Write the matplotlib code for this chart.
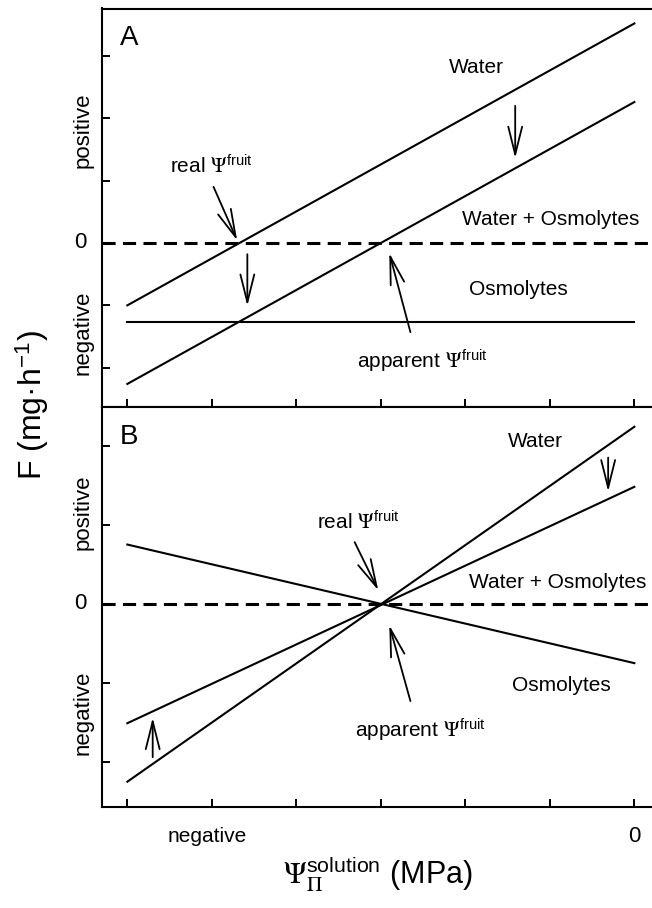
import numpy as np
import matplotlib.pyplot as plt
import matplotlib.transforms as mtransforms

plt.rcParams['font.family'] = ['Liberation Sans', 'DejaVu Sans']
plt.rcParams['mathtext.fontset'] = 'stix'

# x range of solution potential (arbitrary units, 0 at right)
x_ends = [-6, 0]
x_ticks = [-6, -5, -4, -3, -2, -1, 0]

# panel A: line endpoints at x_ends
water_A = [-1.0, 3.52]
water_osm_A = [-2.26, 2.26]
osm_A = [-1.26, -1.26]

# panel B
water_B = [-2.25, 2.24]
water_osm_B = [-1.51, 1.48]
osm_B = [0.75, -0.75]

yticks_A = [-2, -1, 0, 1, 2, 3]
yticks_B = [-2, -1, 0, 1, 2]

# annotations: (tail, head)
arrows_A = [((-4.98, 0.90), (-4.70, 0.04)),
            ((-4.58, -0.18), (-4.58, -1.01)),
            ((-1.41, 2.20), (-1.41, 1.36)),
            ((-2.65, -1.43), (-2.90, -0.16))]
arrows_B = [((-0.31, 1.85), (-0.31, 1.42)),
            ((-5.70, -1.94), (-5.70, -1.44)),
            ((-3.31, 0.78), (-3.03, 0.17)),
            ((-2.65, -1.23), (-2.90, -0.27))]

labels_A = [('Water', -1.87, 2.81),
            ('Water + Osmolytes', -0.99, 0.37),
            ('Osmolytes', -1.37, -0.75),
            (r'real $\Psi^{\mathregular{fruit}}$', -5.0, 1.25),
            (r'apparent $\Psi^{\mathregular{fruit}}$', -2.51, -1.88)]
labels_B = [('Water', -1.17, 2.05),
            ('Water + Osmolytes', -0.91, 0.27),
            ('Osmolytes', -0.86, -1.03),
            (r'real $\Psi^{\mathregular{fruit}}$', -3.27, 1.04),
            (r'apparent $\Psi^{\mathregular{fruit}}$', -2.53, -1.59)]

W, H = 652, 908
fig = plt.figure(figsize=(W / 100, H / 100), dpi=100)

left = 102 / W
width = 557.7 / W
axA = fig.add_axes([left, 1 - 407 / H, width, 398.5 / H])
axB = fig.add_axes([left, 1 - 807 / H, width, 400 / H])


def setup(ax, ylim, yticks, lines, arrows, labels, letter, ypos, yneg):
    ax.set_xlim(-6.3, 0.3)
    ax.set_ylim(*ylim)
    ax.spines['right'].set_visible(False)
    for s in ['left', 'top', 'bottom']:
        ax.spines[s].set_linewidth(1.5)
    ax.set_xticks(x_ticks)
    ax.set_yticks(yticks)
    ax.set_xticklabels([])
    ax.set_yticklabels([])
    ax.tick_params(direction='in', length=6, width=1.4, right=False, top=False)

    ax.axhline(0, color='black', lw=2.2, ls=(0, (4.3, 2.4)))
    for yy in lines:
        ax.plot(x_ends, yy, color='black', lw=1.5)

    for tail, head in arrows:
        ax.annotate('', xy=head, xytext=tail,
                    arrowprops=dict(arrowstyle='->,head_length=1.0,head_width=0.25',
                                    lw=1.3, color='black', mutation_scale=20,
                                    shrinkA=0, shrinkB=0))
    for txt, tx, ty in labels:
        ax.text(tx, ty, txt, fontsize=15, ha='center', va='center')

    tr = mtransforms.blended_transform_factory(ax.transAxes, ax.transData)
    ax.text(0.048, ypos[0], letter, fontsize=20, ha='center', va='center', transform=tr)
    ax.text(-0.034, ypos[1], 'positive', rotation=90, fontsize=16,
            ha='center', va='center', transform=tr)
    ax.text(-0.034, yneg, 'negative', rotation=90, fontsize=16,
            ha='center', va='center', transform=tr)
    ax.text(-0.038, 0, '0', fontsize=16, ha='center', va='center', transform=tr)


setup(axA, (-2.63, 3.76), yticks_A, [water_A, water_osm_A, osm_A],
      arrows_A, labels_A, 'A', (3.29, 1.81), -1.44)
setup(axB, (-2.57, 2.49), yticks_B, [water_B, water_osm_B, osm_B],
      arrows_B, labels_B, 'B', (2.11, 1.16), -1.38)

# x tick texts under panel B
trB = mtransforms.blended_transform_factory(axB.transData, axB.transAxes)
axB.text(-5.05, -0.0725, 'negative', fontsize=15, ha='center', va='center', transform=trB)
axB.text(0, -0.0725, '0', fontsize=16, ha='center', va='center', transform=trB)

fig.text(32 / W, 1 - 405 / H, 'F (mg·h$^{\\mathregular{-1}}$)', rotation=90,
         fontsize=23, ha='center', va='center')
fig.text(378 / W, 1 - 884 / H, r'$\Psi_{\Pi}^{\mathregular{solution}}$ (MPa)',
         fontsize=22, ha='center', va='baseline')

fig.savefig('out.png', dpi=100)
